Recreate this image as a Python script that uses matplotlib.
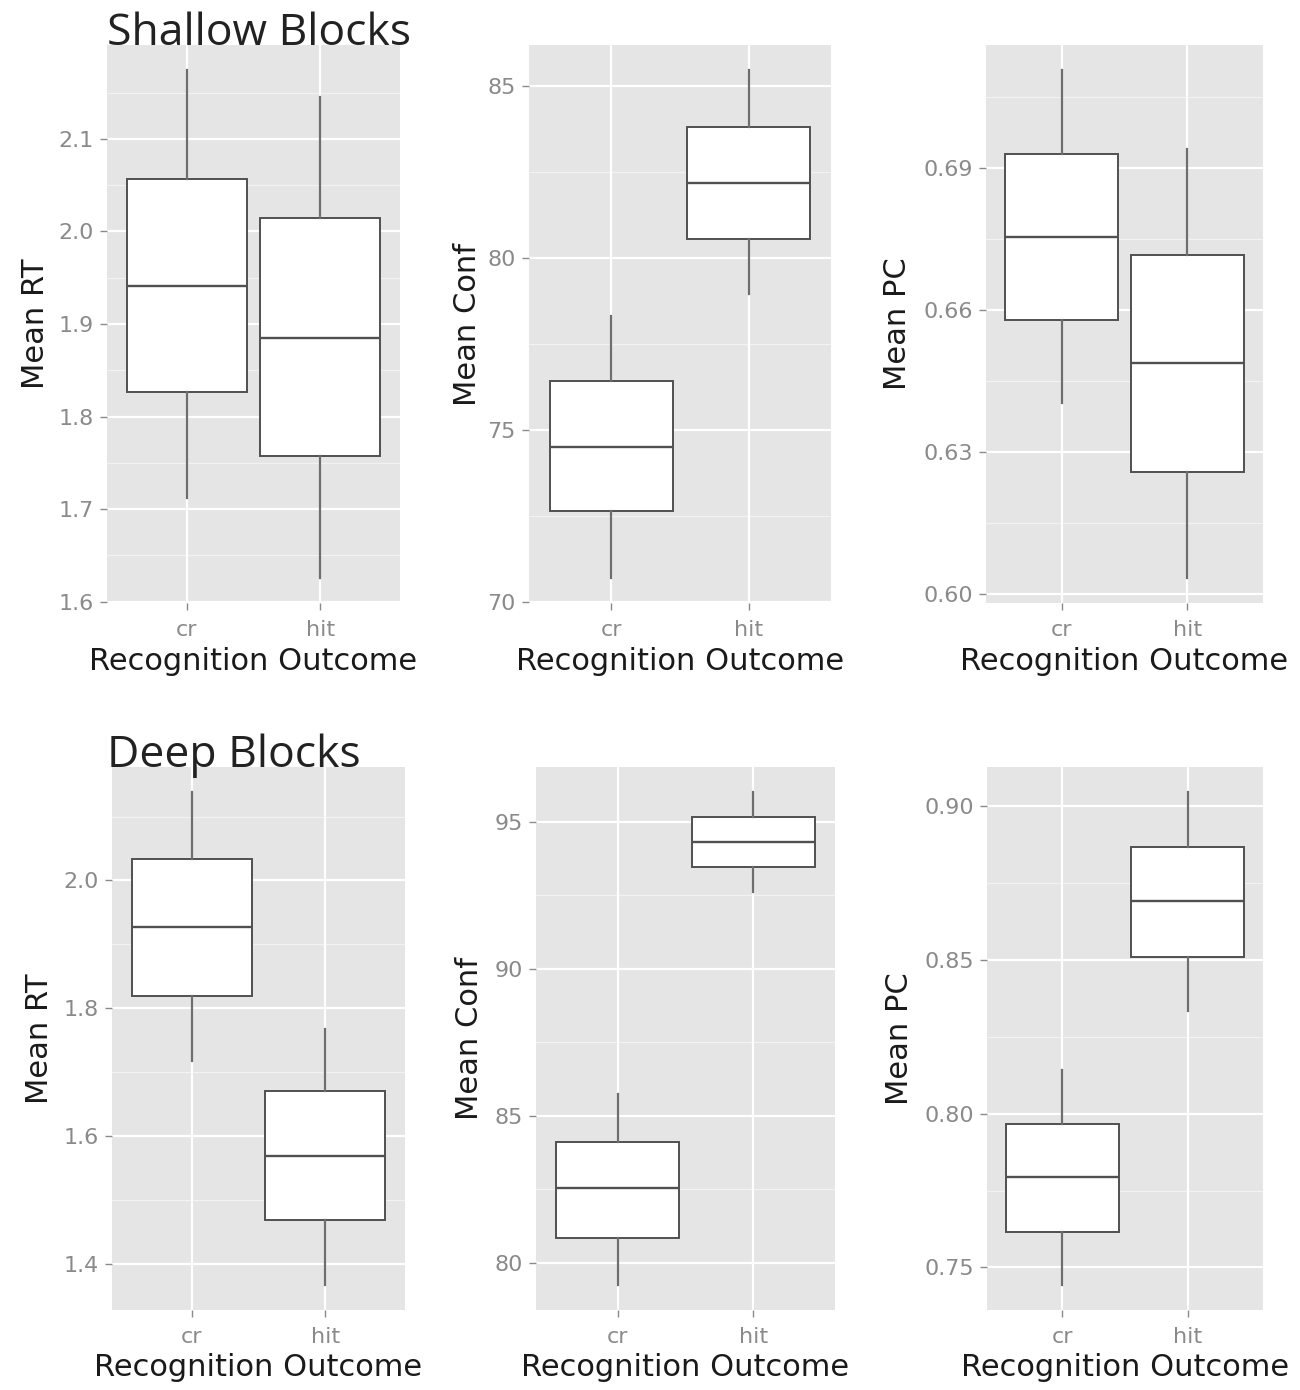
import matplotlib
matplotlib.use("Agg")
import matplotlib.pyplot as plt
import numpy as np

plt.rcParams["font.family"] = ["DejaVu Sans"]

outcomes = ["cr", "hit"]

# per outcome: lower whisker, q1, median, q3, upper whisker
shallow_rt = [[1.712, 1.827, 1.941, 2.057, 2.174],
              [1.626, 1.757, 1.885, 2.014, 2.145]]
shallow_conf = [[70.70, 72.64, 74.51, 76.43, 78.30],
                [78.95, 80.55, 82.17, 83.80, 85.45]]
shallow_pc = [[0.6403, 0.6578, 0.6754, 0.6930, 0.7107],
              [0.6034, 0.6258, 0.6489, 0.6717, 0.6941]]
deep_rt = [[1.717, 1.819, 1.927, 2.034, 2.139],
           [1.366, 1.469, 1.569, 1.671, 1.767]]
deep_conf = [[79.24, 80.86, 82.54, 84.12, 85.75],
             [92.62, 93.47, 94.32, 95.17, 96.02]]
deep_pc = [[0.7442, 0.7614, 0.7794, 0.7966, 0.8141],
           [0.8335, 0.8510, 0.8691, 0.8866, 0.9047]]

shallow_rt_ticks = ["1.6", "1.7", "1.8", "1.9", "2.0", "2.1"]
shallow_conf_ticks = ["70", "75", "80", "85"]
shallow_pc_ticks = ["0.60", "0.63", "0.66", "0.69"]
deep_rt_ticks = ["1.4", "1.6", "1.8", "2.0"]
deep_conf_ticks = ["80", "85", "90", "95"]
deep_pc_ticks = ["0.75", "0.80", "0.85", "0.90"]

block_titles = ["Shallow Blocks", "Deep Blocks"]
x_title = "Recognition Outcome"

W, H = 1300, 1390
fig = plt.figure(figsize=(W / 100, H / 100), dpi=100)

PANEL_BG = "#E5E5E5"
TICK_GREY = "#8A8A8A"
BOX_EDGE = "#505050"
WHISKER = "#6E6E6E"


def rect(x0, x1, y0, y1):
    # pixel box -> figure fraction
    return [x0 / W, 1 - y1 / H, (x1 - x0) / W, (y1 - y0) / H]


def draw_panel(box, stats, tick_labels, ylabel, ylab_dx):
    x0, x1, y0, y1 = box
    ax = fig.add_axes(rect(x0, x1, y0, y1))
    ax.set_facecolor(PANEL_BG)
    for s in ax.spines.values():
        s.set_visible(False)

    lo = min(s[0] for s in stats)
    hi = max(s[4] for s in stats)
    pad = 0.05 * (hi - lo)
    ax.set_ylim(lo - pad, hi + pad)
    ax.set_xlim(0.4, 2.6)

    ticks = [float(t) for t in tick_labels]
    step = ticks[1] - ticks[0]
    for m in np.arange(ticks[0] - step / 2, ticks[-1] + step, step):
        ax.axhline(m, color="#F2F2F2", lw=0.9, zorder=0)
    for t in ticks:
        ax.axhline(t, color="white", lw=1.6, zorder=0.5)
    for xp in (1, 2):
        ax.axvline(xp, color="white", lw=1.6, zorder=0.5)

    bstats = [dict(whislo=s[0], q1=s[1], med=s[2], q3=s[3], whishi=s[4],
                   fliers=[], label=lab) for s, lab in zip(stats, outcomes)]
    ax.bxp(bstats, positions=[1, 2], widths=0.9, showcaps=False,
           showfliers=False, patch_artist=True,
           boxprops=dict(facecolor="white", edgecolor=BOX_EDGE, linewidth=1.4),
           whiskerprops=dict(color=WHISKER, linewidth=1.6),
           medianprops=dict(color=BOX_EDGE, linewidth=1.7),
           zorder=2)

    ax.set_yticks(ticks, tick_labels)
    ax.set_xticks([1, 2], outcomes)
    ax.tick_params(axis="both", length=5, width=1.0, color=TICK_GREY,
                   labelcolor=TICK_GREY, labelsize=16)
    ax.tick_params(axis="y", pad=4.5)
    ax.tick_params(axis="x", pad=7)

    ax.set_xlabel(x_title, fontsize=22, color="#1A1A1A")
    ax.xaxis.set_label_coords(0.5, -58 / (y1 - y0))
    ax.xaxis.label.set_va("center")
    ax.set_ylabel(ylabel, fontsize=22, color="#1A1A1A")
    ax.yaxis.label.set_va("center")
    ax.yaxis.set_label_coords(ylab_dx / (x1 - x0), 0.5)
    return ax


draw_panel((107, 400, 45, 603), shallow_rt, shallow_rt_ticks, "Mean RT", -71)
draw_panel((529, 831, 45, 603), shallow_conf, shallow_conf_ticks, "Mean Conf", -62)
draw_panel((986, 1263, 45, 603), shallow_pc, shallow_pc_ticks, "Mean PC", -88)
draw_panel((112, 405, 767, 1310), deep_rt, deep_rt_ticks, "Mean RT", -72)
draw_panel((536, 835, 767, 1310), deep_conf, deep_conf_ticks, "Mean Conf", -66)
draw_panel((987, 1263, 767, 1310), deep_pc, deep_pc_ticks, "Mean PC", -87)

fig.text(107 / W, 1 - 34 / H, block_titles[0], fontsize=32,
         family="Open Sans", color="#222222", ha="left", va="center")
fig.text(107 / W, 1 - 756 / H, block_titles[1], fontsize=32,
         family="Open Sans", color="#222222", ha="left", va="center")

fig.savefig("out.png", dpi=100, facecolor="white")
